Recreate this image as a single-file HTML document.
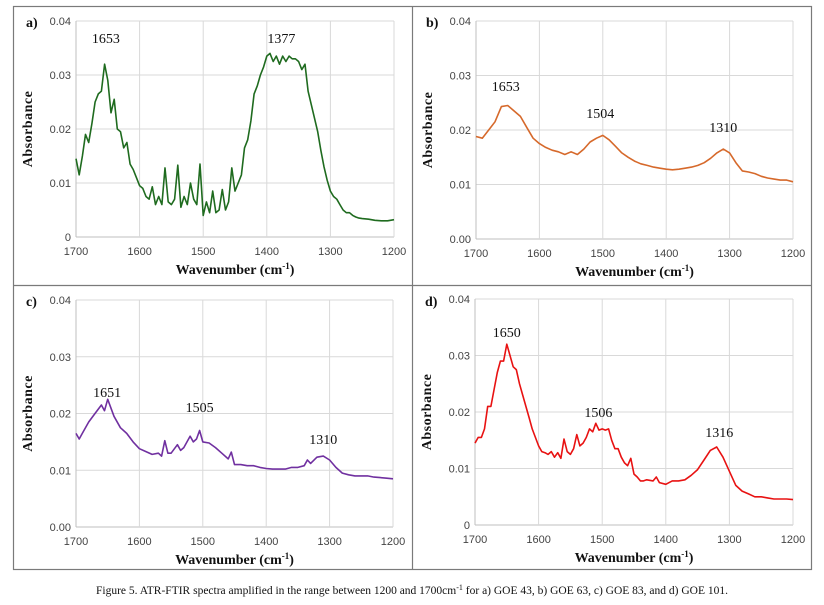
<!DOCTYPE html>
<html><head><meta charset="utf-8"><style>
html,body{margin:0;padding:0;background:#fff}
svg{display:block}
.tick{font-family:"Liberation Sans",sans-serif;font-size:11px;fill:#444}
.lbl{font-family:"Liberation Serif",serif;font-size:14px;fill:#111}
.ttl{font-family:"Liberation Serif",serif;font-size:14px;font-weight:bold;fill:#111}
.cap{font-family:"Liberation Serif",serif;font-size:11.5px;fill:#111}
</style></head><body>
<svg id="fig" width="824" height="605" viewBox="0 0 824 605" xmlns="http://www.w3.org/2000/svg">
<rect x="13.5" y="6.5" width="798" height="563" fill="none" stroke="#7a7a7a" stroke-width="1.2"/>
<line x1="13" y1="285.5" x2="812" y2="285.5" stroke="#7a7a7a" stroke-width="1.2"/>
<line x1="412.5" y1="6" x2="412.5" y2="570" stroke="#7a7a7a" stroke-width="1.2"/>
<text class="cap" x="412" y="594" text-anchor="middle">Figure 5. ATR-FTIR spectra amplified in the range between 1200 and 1700cm<tspan dy="-4" font-size="8">-1</tspan><tspan dy="4"> for a) GOE 43, b) GOE 63, c) GOE 83, and d) GOE 101.</tspan></text>
</svg>
<script>
// ---- data ----
const xTicks = [1700,1600,1500,1400,1300,1200];
const yTicksA = ["0","0.01","0.02","0.03","0.04"];
const yTicksB = ["0.00","0.01","0.02","0.03","0.04"];
const yTickVals = [0,0.01,0.02,0.03,0.04];

const wnA = [1700,1695,1690,1685,1680,1675,1670,1665,1660,1655,1650,1645,1640,1635,1630,1625,1620,1615,1610,1605,1600,1595,1590,1585,1580,1575,1570,1565,1560,1555,1550,1545,1540,1535,1530,1525,1520,1515,1510,1505,1500,1495,1490,1485,1480,1475,1470,1465,1460,1455,1450,1445,1440,1435,1430,1425,1420,1415,1410,1405,1400,1395,1390,1385,1380,1375,1370,1365,1360,1355,1350,1345,1340,1335,1330,1325,1320,1315,1310,1305,1300,1295,1290,1285,1280,1275,1270,1265,1260,1255,1250,1240,1230,1220,1210,1200];
const absA = [0.0145,0.0115,0.015,0.019,0.0175,0.021,0.025,0.0265,0.027,0.032,0.029,0.023,0.0255,0.020,0.0195,0.0165,0.0175,0.0135,0.0125,0.011,0.0095,0.009,0.0075,0.007,0.0093,0.006,0.0075,0.006,0.0128,0.0065,0.006,0.007,0.0133,0.0055,0.0075,0.006,0.010,0.007,0.006,0.0135,0.004,0.0065,0.0045,0.0085,0.0045,0.005,0.0088,0.005,0.0065,0.0128,0.0085,0.010,0.0115,0.0165,0.018,0.0215,0.0265,0.028,0.030,0.0315,0.0335,0.034,0.0325,0.0335,0.032,0.0335,0.0325,0.0335,0.033,0.033,0.0325,0.031,0.032,0.027,0.0245,0.022,0.0195,0.016,0.013,0.0105,0.0085,0.0075,0.007,0.006,0.005,0.0045,0.0045,0.004,0.0037,0.0035,0.0034,0.0033,0.0031,0.003,0.003,0.0032];

const wnB = [1700,1690,1680,1670,1660,1650,1640,1630,1620,1610,1600,1590,1580,1570,1560,1550,1540,1530,1520,1510,1500,1490,1480,1470,1460,1450,1440,1430,1420,1410,1400,1390,1380,1370,1360,1350,1340,1330,1320,1310,1300,1290,1280,1270,1260,1250,1240,1230,1220,1210,1200];
const absB = [0.0188,0.0185,0.020,0.0215,0.0243,0.0245,0.0235,0.0225,0.0205,0.0185,0.0175,0.0168,0.0163,0.016,0.0155,0.016,0.0155,0.0165,0.0178,0.0185,0.019,0.0182,0.017,0.0158,0.015,0.0143,0.0138,0.0135,0.0132,0.013,0.0128,0.0127,0.0128,0.013,0.0132,0.0135,0.014,0.0148,0.0158,0.0165,0.0158,0.014,0.0125,0.0123,0.012,0.0115,0.0112,0.011,0.0108,0.0108,0.0105];

const wnC = [1700,1695,1690,1680,1670,1660,1655,1650,1640,1630,1620,1610,1600,1590,1580,1570,1565,1560,1555,1550,1540,1535,1530,1520,1515,1510,1505,1500,1490,1480,1470,1460,1455,1450,1440,1430,1420,1410,1400,1390,1380,1370,1360,1350,1340,1335,1330,1320,1310,1300,1290,1280,1270,1260,1250,1240,1230,1220,1210,1200];
const absC = [0.0165,0.0155,0.0165,0.0185,0.020,0.0215,0.0205,0.0225,0.0195,0.0175,0.0165,0.015,0.0138,0.0133,0.0128,0.013,0.0125,0.0152,0.013,0.013,0.0145,0.0135,0.014,0.016,0.015,0.0155,0.017,0.015,0.0148,0.014,0.013,0.012,0.0132,0.011,0.011,0.0108,0.0108,0.0105,0.0103,0.0102,0.0102,0.0102,0.0105,0.0105,0.0108,0.0118,0.0112,0.0123,0.0125,0.0118,0.0105,0.0095,0.0092,0.009,0.009,0.009,0.0088,0.0087,0.0086,0.0085];

const wnD = [1700,1695,1690,1685,1680,1675,1670,1665,1660,1655,1650,1645,1640,1635,1630,1625,1620,1615,1610,1605,1600,1595,1590,1585,1580,1575,1570,1565,1560,1555,1550,1545,1540,1535,1530,1525,1520,1515,1510,1505,1500,1495,1490,1485,1480,1475,1470,1465,1460,1455,1450,1445,1440,1435,1430,1420,1415,1410,1400,1390,1380,1370,1360,1350,1340,1330,1320,1310,1300,1290,1280,1270,1260,1250,1240,1230,1220,1210,1200];
const absD = [0.0145,0.0155,0.0155,0.017,0.021,0.021,0.024,0.027,0.029,0.029,0.032,0.030,0.028,0.0275,0.025,0.023,0.021,0.019,0.017,0.0155,0.014,0.013,0.0128,0.0125,0.013,0.012,0.0128,0.0118,0.0152,0.013,0.0125,0.0135,0.016,0.014,0.0145,0.0155,0.017,0.0165,0.018,0.0168,0.017,0.0168,0.017,0.015,0.0135,0.0135,0.012,0.011,0.0105,0.0118,0.009,0.0085,0.0078,0.0078,0.008,0.0078,0.0085,0.0075,0.0072,0.0078,0.0078,0.008,0.0088,0.0098,0.0115,0.0132,0.0138,0.012,0.0095,0.007,0.006,0.0055,0.005,0.005,0.0048,0.0046,0.0046,0.0046,0.0045];

const peaksA = [1653,1377], peakYA = [38,38];
const peaksB = [1653,1504,1310], peakYB = [86,113,127];
const peaksC = [1651,1505,1310], peakYC = [392,407,439];
const peaksD = [1650,1506,1316], peakYD = [332,412,432];

const panels = [
 {id:'a',letter:'a)',x0:76,x1:394,yTop:21,yBot:237,lx:26,ly:22,wn:wnA,ab:absA,col:'#1f6b1f',yt:yTicksA,pk:peaksA,pky:peakYA},
 {id:'b',letter:'b)',x0:476,x1:793,yTop:21,yBot:239,lx:426,ly:22,wn:wnB,ab:absB,col:'#d6692b',yt:yTicksB,pk:peaksB,pky:peakYB},
 {id:'c',letter:'c)',x0:76,x1:393,yTop:300,yBot:527,lx:26,ly:301,wn:wnC,ab:absC,col:'#7030a0',yt:yTicksB,pk:peaksC,pky:peakYC},
 {id:'d',letter:'d)',x0:475,x1:793,yTop:299,yBot:525,lx:425,ly:301,wn:wnD,ab:absD,col:'#e81212',yt:yTicksA,pk:peaksD,pky:peakYD}
];
const NS='http://www.w3.org/2000/svg';
const svg=document.getElementById('fig');
function mk(tag,attrs,parent){const e=document.createElementNS(NS,tag);for(const k in attrs)e.setAttribute(k,attrs[k]);(parent||svg).appendChild(e);return e;}
panels.forEach(p=>{
  const g=mk('g',{});
  
  
  const sx=w=>p.x0+(1700-w)/500*(p.x1-p.x0);
  const sy=v=>p.yBot-v/0.04*(p.yBot-p.yTop);
  yTickVals.forEach((v,i)=>{
    const y=sy(v);
    const gl=mk('line',{x1:p.x0,x2:p.x1,y1:y,y2:y,stroke:i==0?'#bfbfbf':'#d9d9d9','stroke-width':1},g);
    
    
    const t=mk('text',{x:p.x0-5,y:y+4,'text-anchor':'end',class:'tick'},g);
    
    
    t.textContent=p.yt[i];
  });
  xTicks.forEach(w=>{
    const x=sx(w);
    const gl=mk('line',{x1:x,x2:x,y1:p.yTop,y2:p.yBot,stroke:'#d9d9d9','stroke-width':1},g);
    
    
    const t=mk('text',{x:x,y:p.yBot+18,'text-anchor':'middle',class:'tick'},g);
    
    
    t.textContent=w;
  });
  const ax=mk('line',{x1:p.x0,x2:p.x0,y1:p.yTop,y2:p.yBot,stroke:'#bfbfbf'},g);
  
  
  let d='';
  p.wn.forEach((w,i)=>{d+=(i?'L':'M')+sx(w).toFixed(1)+','+sy(p.ab[i]).toFixed(1);});
  const path=mk('path',{d:d,fill:'none',stroke:p.col,'stroke-width':1.6,'stroke-linejoin':'round'},g);
  
  
  p.pk.forEach((w,i)=>{
    const t=mk('text',{x:sx(w),y:p.pky[i]+5,'text-anchor':'middle',class:'lbl'},g);
    
    
    t.textContent=w;
  });
  const L=mk('text',{x:p.lx,y:p.ly+5,class:'ttl'},g);
  
  
  L.textContent=p.letter;
  const cy=(p.yTop+p.yBot)/2, cxp=p.x0-44;
  const yt=mk('text',{x:cxp,y:cy,'text-anchor':'middle',class:'ttl',transform:'rotate(-90 '+cxp+' '+cy+')','letter-spacing':'0.5'},g);
  
  
  yt.textContent='Absorbance';
  const xt=mk('text',{x:(p.x0+p.x1)/2,y:p.yBot+37,'text-anchor':'middle',class:'ttl'},g);
  
  
  xt.innerHTML='Wavenumber (cm<tspan dy="-5" font-size="9">-1</tspan><tspan dy="5">)</tspan>';
});
</script>
</body></html>
